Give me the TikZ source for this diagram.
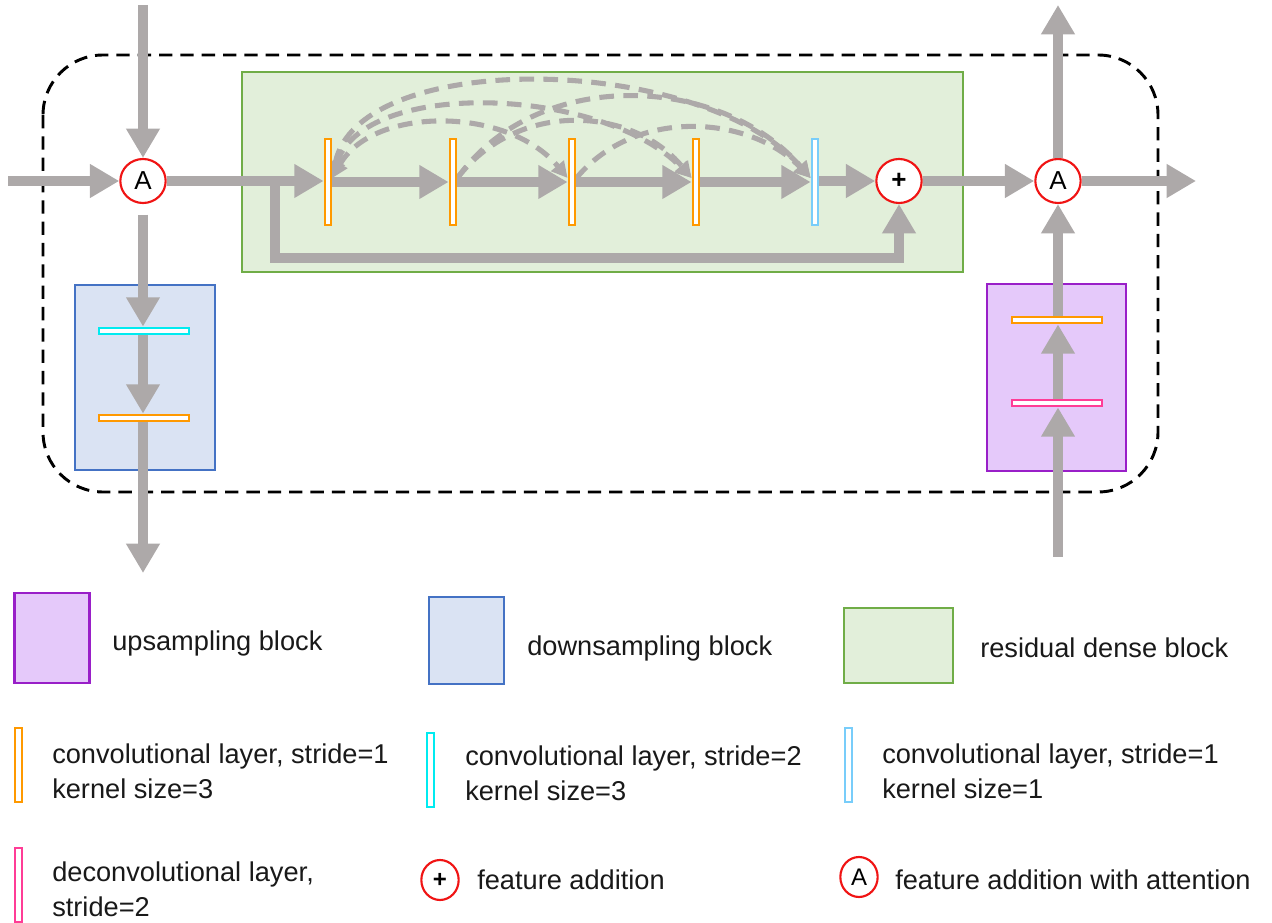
\documentclass[tikz,border=0pt]{standalone}
\usepackage{fontspec}
\setmainfont{Liberation Sans}
\usetikzlibrary{arrows.meta,shapes.geometric,calc}
\definecolor{flowgray}{RGB}{173,169,169}
\definecolor{rdbfill}{RGB}{226,239,218}
\definecolor{rdbdraw}{RGB}{112,173,71}
\definecolor{dsfill}{RGB}{218,227,243}
\definecolor{dsdraw}{RGB}{68,114,196}
\definecolor{usfill}{RGB}{229,201,250}
\definecolor{usdraw}{RGB}{153,31,200}
\definecolor{convorange}{RGB}{255,153,0}
\definecolor{convcyan}{RGB}{0,235,240}
\definecolor{convlblue}{RGB}{120,205,250}
\definecolor{deconvpink}{RGB}{255,60,150}
\definecolor{addred}{RGB}{240,20,20}
\tikzset{
  flow/.style={draw=flowgray, line width=7.5pt, -{Triangle[length=22pt,width=24pt]}},
  dense/.style={draw=flowgray, line width=3.8pt, dash pattern=on 11pt off 7pt, -{Triangle[length=12pt,width=12pt]}},
  densetwo/.style={draw=flowgray, line width=3.8pt, dash pattern=on 11pt off 7pt, {Triangle[length=12pt,width=12pt]}-{Triangle[length=12pt,width=12pt]}},
  vbar/.style={rectangle, draw=#1, fill=white, line width=1.6pt, minimum width=5pt, minimum height=65pt, inner sep=0pt},
  hbar/.style={rectangle, draw=#1, fill=white, line width=1.6pt, minimum width=67pt, minimum height=5pt, inner sep=0pt},
  addop/.style={ellipse, draw=addred, fill=white, line width=1.6pt, minimum width=34pt, minimum height=33pt, inner sep=0pt, font=\fontsize{19.5}{22}\selectfont},
  legop/.style={ellipse, draw=addred, fill=white, line width=1.6pt, minimum width=28pt, minimum height=30pt, inner sep=0pt, font=\fontsize{18}{22}\selectfont},
  blk/.style={rectangle, line width=1.8pt, inner sep=0pt},
  legtext/.style={anchor=west, align=left, inner sep=0pt, font=\fontsize{20.4}{26}\selectfont, text=black!90},
}
\begin{document}
\begin{tikzpicture}[x=0.75pt,y=-0.75pt]
\useasboundingbox (0,0) rectangle (1272,923);
% outer dashed frame
\draw[black, line width=2.2pt, dash pattern=on 10pt off 6pt, rounded corners=45pt] (43,55) rectangle (1158,492);
% blocks
\node[blk, draw=rdbdraw, fill=rdbfill, minimum width=540.75pt, minimum height=150pt] (rdb) at (602.5,172) {};
\node[blk, draw=dsdraw, fill=dsfill, minimum width=105pt, minimum height=138.75pt] (ds) at (145,377.5) {};
\node[blk, draw=usdraw, fill=usfill, minimum width=104.25pt, minimum height=140.25pt] (us) at (1056.5,377.5) {};

% operators
\node[addop] (Ain) at (143,181) {A};
\node[addop] (plus) at (899,181) {\textbf{+}};
\node[addop] (Aout) at (1058,181) {A};

% bars in the residual dense block
\node[vbar=convorange] (b1) at (328,182) {};
\node[vbar=convorange] (b2) at (453,182) {};
\node[vbar=convorange] (b3) at (572,182) {};
\node[vbar=convorange] (b4) at (696,182) {};
\node[vbar=convlblue] (b5) at (815,182) {};
% bars in down/up sampling blocks
\node[hbar=convcyan] (dc) at (144,331) {};
\node[hbar=convorange] (do) at (144,418) {};
\node[hbar=convorange] (uo) at (1057,320) {};
\node[hbar=deconvpink] (up) at (1057,403) {};

% free ends
\coordinate (inL) at (8,181);
\coordinate (inT) at (143,5);
\coordinate (outB) at (143,573);
\coordinate (outT) at (1058,5);
\coordinate (outR) at (1196,181);
\coordinate (inB) at (1058,557);
\coordinate (sk) at (275,181);

% skip connection
\draw[flow] (sk) -- ++(0,77) -| (plus.south);
% main flow
\draw[flow] (inL) -- (Ain.west);
\draw[flow] (inT) -- (Ain.north);
\draw[flow] (Ain.east) -- (Ain.east -| b1.west);
\draw[flow] (b1.east) -- (b2.west);
\draw[flow] (b2.east) -- (b3.west);
\draw[flow] (b3.east) -- (b4.west);
\draw[flow] (b4.east) -- (b5.west);
\draw[flow] (b5.east |- plus.west) -- (plus.west);
\draw[flow] (plus.east) -- (Aout.west);
\draw[flow] (Aout.north) -- (outT);
\draw[flow] (Aout.east) -- (outR);
% downsampling path
\draw[flow, shorten <=8pt] (Ain.south) -- (Ain.south |- dc.north);
\draw[flow] (Ain.south |- dc.south) -- (Ain.south |- do.north);
\draw[flow] (Ain.south |- do.south) -- (outB);
% upsampling path
\draw[flow] (inB) -- (inB |- up.south);
\draw[flow] (inB |- up.north) -- (inB |- uo.south);
\draw[flow] (inB |- uo.north) -- (Aout.south);

% dense connections
\draw[densetwo] ([yshift=3pt]b1.east) .. controls +(40,-72) and +(-60,-72) .. ([yshift=3pt]b3.west);
\draw[densetwo] ([yshift=3pt]b1.east) .. controls +(30,-100) and +(-90,-92) .. ([yshift=3pt]b4.west);
\draw[densetwo] ([yshift=3pt]b1.east) .. controls +(25,-130) and +(-110,-125) .. ([yshift=3pt]b5.west);
\draw[dense] ([yshift=3pt]b2.east) .. controls +(60,-78) and +(-60,-72) .. ([yshift=3pt]b4.west);
\draw[dense] ([yshift=3pt]b2.east) .. controls +(80,-112) and +(-90,-104) .. ([yshift=3pt]b5.west);
\draw[dense] ([yshift=3pt]b3.east) .. controls +(60,-72) and +(-60,-62) .. ([yshift=3pt]b5.west);

% redraw bars on top of the connectors
\node[vbar=convorange] at (b1) {};
\node[vbar=convorange] at (b2) {};
\node[vbar=convorange] at (b3) {};
\node[vbar=convorange] at (b4) {};
\node[vbar=convlblue] at (b5) {};
\node[hbar=convorange] at (do) {};
\node[hbar=deconvpink] at (up) {};
\node[hbar=convorange] at (uo) {};
\node[hbar=convcyan] at (dc) {};

% legend row 1
\node[blk, draw=usdraw, fill=usfill, minimum width=56.25pt, minimum height=67.5pt] (lus) at (52,638) {};
\node[legtext] (tus) at (112,643) {upsampling block};
\node[blk, draw=dsdraw, fill=dsfill, minimum width=56.25pt, minimum height=65pt] (lds) at (466.5,640.5) {};
\node[legtext] (tds) at (527,648) {downsampling block};
\node[blk, draw=rdbdraw, fill=rdbfill, minimum width=81.75pt, minimum height=56.25pt] (lrdb) at (898.5,645.5) {};
\node[legtext] (trdb) at (980,648) {residual dense block};
% legend row 2
\node[vbar=convorange, minimum height=56pt] (lb1) at (18.5,765) {};
\node[legtext] (tb1) at (52,771) {convolutional layer, stride=1\\kernel size=3};
\node[vbar=convcyan, minimum height=56pt] (lb2) at (430.5,770) {};
\node[legtext] (tb2) at (465,773) {convolutional layer, stride=2\\kernel size=3};
\node[vbar=convlblue, minimum height=56pt] (lb3) at (848.5,765) {};
\node[legtext] (tb3) at (882,771) {convolutional layer, stride=1\\kernel size=1};
% legend row 3
\node[vbar=deconvpink, minimum height=56pt] (lb4) at (18.5,885) {};
\node[legtext] (tb4) at (52,889) {deconvolutional layer,\\stride=2};
\node[legop] (lplus) at (440,880) {\textbf{+}};
\node[legtext] (tplus) at (477,880) {feature addition};
\node[legop] (lA) at (859,877) {A};
\node[legtext] (tA) at (895,880) {feature addition with attention};
\end{tikzpicture}
\end{document}
